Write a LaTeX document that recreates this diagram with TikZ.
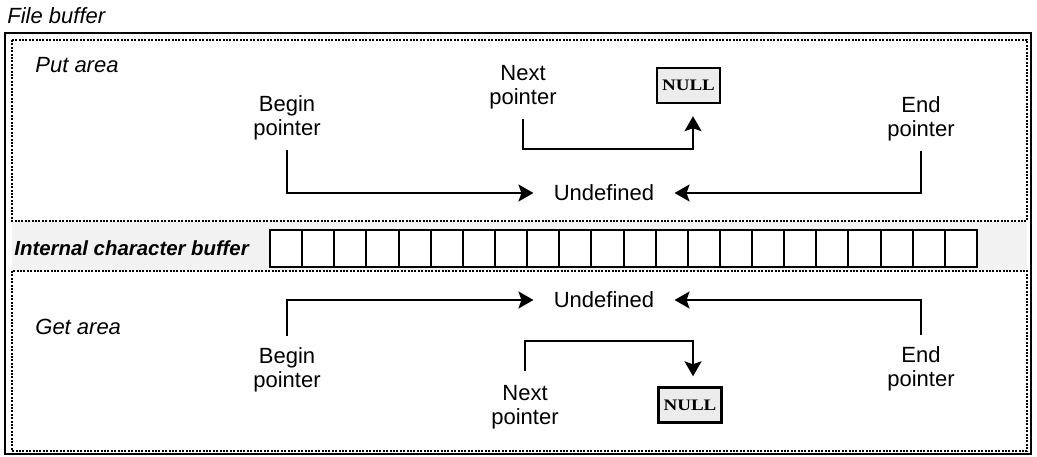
\documentclass[tikz,border=0pt]{standalone}
\usepackage{fontspec}
\usepackage{graphicx}
\setmainfont{Liberation Sans}
\newfontfamily\nulltextfnt{Liberation Serif}
\usetikzlibrary{arrows.meta}
\begin{document}
\begin{tikzpicture}[x=0.5pt,y=-0.5pt,
  lbl/.style={font=\fontsize{11}{11.8}\selectfont, align=center, inner sep=0pt},
  ital/.style={font=\fontsize{11}{12}\selectfont\itshape, anchor=west, inner sep=0pt},
  conn/.style={line width=1pt},
  arr/.style={conn, -{Stealth[length=7.5pt,width=8.5pt,inset=1.5pt]}},
  dotbox/.style={line width=1.2pt, dash pattern=on 1pt off 0.7pt},
  nullbox/.style={draw, line width=1.2pt, fill=gray!15, minimum width=31.5pt, minimum height=17.5pt, inner sep=0pt, font=\nulltextfnt\bfseries\fontsize{10}{11}\selectfont},
  cell/.style={draw, line width=1pt, fill=white, minimum width=16.07pt, minimum height=18.5pt, inner sep=0pt},
  und/.style={lbl, inner xsep=10pt}
]
\useasboundingbox (0,0) rectangle (1037,456);
% frames
\draw[line width=1.3pt] (5,33) rectangle (1031,454);
\fill[gray!10] (12,221) rectangle (1027,271);
\draw[dotbox] (12,40) rectangle (1027,221);
\draw[dotbox] (12,271) rectangle (1027,451);
% buffer cells
\foreach \i in {0,...,21} \node[cell] (c\i) at ({270+32.136*(\i+0.5)},248.5) {};
% labels
\node[ital] (fb) at (7,16) {File buffer};
\node[ital] (pa) at (35,65) {Put area};
\node[ital] (ga) at (35,327) {Get area};
\node[anchor=west, inner sep=0pt, font=\fontsize{10.2}{12}\selectfont\bfseries\itshape] (icb) at (14,248) {Internal character buffer};
% put area
\node[lbl] (bp1) at (287,118) {Begin\\pointer};
\node[lbl] (np1) at (523,87) {Next\\pointer};
\node[lbl] (ep1) at (921,119) {End\\pointer};
\node[nullbox] (nl1) at (688.5,85.5) {\scalebox{0.95}[0.8]{NULL}};
\node[und] (ud1) at (604,193) {Undefined};
% get area
\node[und] (ud2) at (604,300) {Undefined};
\node[lbl] (bp2) at (287,370) {Begin\\pointer};
\node[lbl] (np2) at (525,407) {Next\\pointer};
\node[lbl] (ep2) at (921,369) {End\\pointer};
\node[nullbox] (nl2) at (690,405) {\scalebox{0.95}[0.8]{NULL}};
% connectors put
\draw[arr, shorten <=5pt] (bp1.south) |- (ud1.west);
\draw[arr, shorten <=5pt] (ep1.south) |- (ud1.east);
\coordinate (k1) at (600,149);
\draw[arr, shorten <=5pt, shorten >=6pt] (np1.south) |- (k1) -| ([xshift=2.25pt]nl1.south);
% connectors get
\draw[arr, shorten <=6pt] (bp2.north) |- (ud2.west);
\draw[arr, shorten <=6pt] (ep2.north) |- (ud2.east);
\coordinate (k2) at (600,341);
\draw[arr, shorten <=7pt, shorten >=5pt] (np2.north) |- (k2) -| ([xshift=1.5pt]nl2.north);
\end{tikzpicture}
\end{document}
